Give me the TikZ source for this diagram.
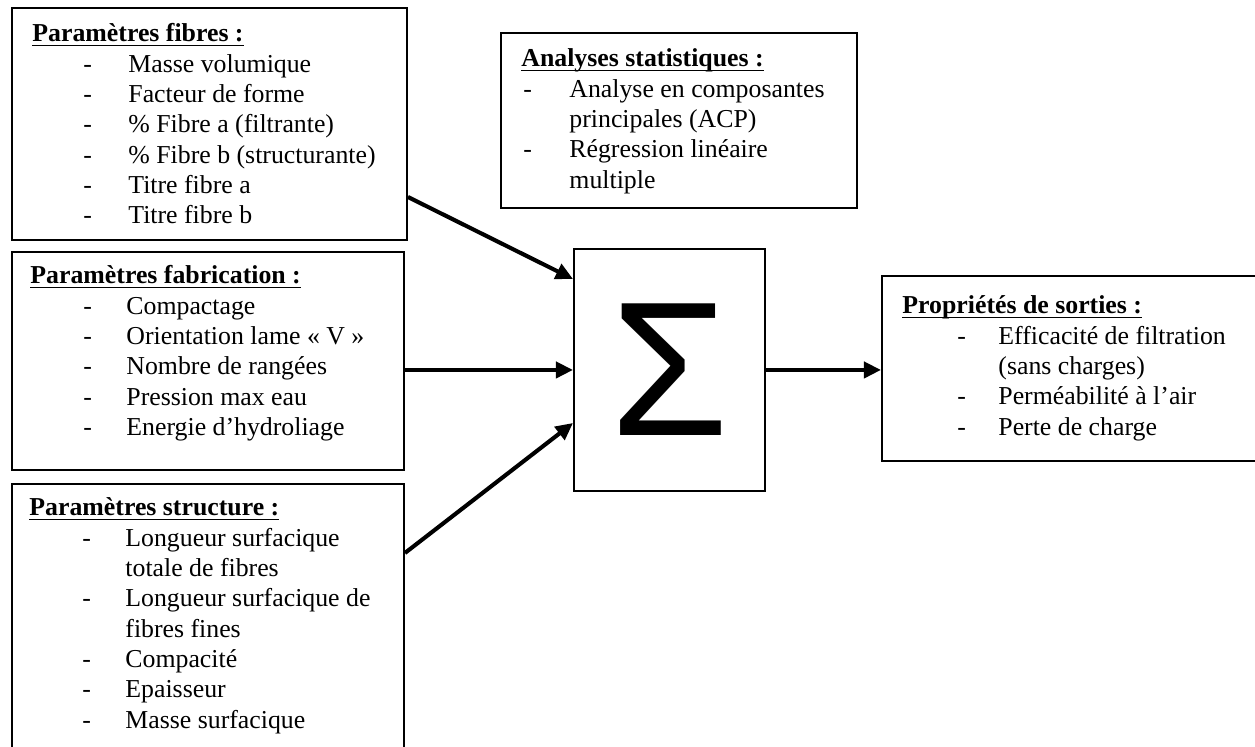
\documentclass[tikz,border=0pt]{standalone}
\usepackage{fontspec}
\setmainfont{Liberation Serif}
\newfontfamily\sommefont{Liberation Sans}
\usetikzlibrary{positioning, arrows.meta, calc}

\newlength{\pix}
\setlength{\pix}{0.465pt}

% lignes des listes : decalage du tiret, decalage du texte, texte
\newcommand{\tiret}[3]{\hspace*{#1}\makebox[0pt][l]{-}\hspace*{\dimexpr #2-#1\relax}#3\par}
\newcommand{\suite}[2]{\hspace*{#1}#2\par}
\newcommand{\titre}[1]{\underline{\smash{\textbf{#1}}}\par}

\begin{document}
\begin{tikzpicture}[
    x=0.465pt, y=-0.465pt,
    boite/.style={
        rectangle, draw=black, line width=0.9pt,
        inner sep=0pt, anchor=north west
    },
    texte/.style={
        anchor=base west, inner sep=0pt,
        font=\fontsize{12}{14.1}\selectfont
    },
    fleche/.style={-{Triangle[length=8pt, width=7.5pt]}, line width=1.9pt},
]
\useasboundingbox (0,0) rectangle (1255,747);

% ---- Boites d'entree ----
\node[boite, minimum width=395\pix, minimum height=232\pix] (fibres) at (11,7) {};
\node[boite, minimum width=392\pix, minimum height=218\pix] (fabrication) at (11,251) {};
\node[boite, minimum width=392\pix, minimum height=290\pix] (structure) at (11,483) {};

% ---- Analyses ----
\node[boite, minimum width=356\pix, minimum height=175\pix] (analyses) at (500,32) {};

% ---- Somme ----
\node[boite, minimum width=191\pix, minimum height=242\pix,
      font=\sommefont\fontsize{89}{89}\selectfont] (somme) at (573,248) {Σ};

% ---- Sorties ----
\node[boite, minimum width=390\pix, minimum height=185\pix] (sorties) at (881,275) {};

% ---- Textes ----
\node[texte] (fibres-txt) at ([shift={(21,35)}]fibres.north west) {\parbox[t]{380\pix}{%
    \titre{Paramètres fibres :}
    \tiret{51\pix}{96\pix}{Masse volumique}
    \tiret{51\pix}{96\pix}{Facteur de forme}
    \tiret{51\pix}{96\pix}{\% Fibre a (filtrante)}
    \tiret{51\pix}{96\pix}{\% Fibre b (structurante)}
    \tiret{51\pix}{96\pix}{Titre fibre a}
    \tiret{51\pix}{96\pix}{Titre fibre b}}};

\node[texte] (fabrication-txt) at ([shift={(19,33)}]fabrication.north west) {\parbox[t]{380\pix}{%
    \titre{Paramètres fabrication :}
    \tiret{53\pix}{96\pix}{Compactage}
    \tiret{53\pix}{96\pix}{Orientation lame « V »}
    \tiret{53\pix}{96\pix}{Nombre de rangées}
    \tiret{53\pix}{96\pix}{Pression max eau}
    \tiret{53\pix}{96\pix}{Energie d’hydroliage}}};

\node[texte] (structure-txt) at ([shift={(18,33)}]structure.north west) {\parbox[t]{380\pix}{%
    \titre{Paramètres structure :}
    \tiret{53\pix}{96\pix}{Longueur surfacique}
    \suite{96\pix}{totale de fibres}
    \tiret{53\pix}{96\pix}{Longueur surfacique de}
    \suite{96\pix}{fibres fines}
    \tiret{53\pix}{96\pix}{Compacité}
    \tiret{53\pix}{96\pix}{Epaisseur}
    \tiret{53\pix}{96\pix}{Masse surfacique}}};

\node[texte] (analyses-txt) at ([shift={(21,35)}]analyses.north west) {\parbox[t]{340\pix}{%
    \titre{Analyses statistiques :}
    \tiret{2\pix}{48\pix}{Analyse en composantes}
    \suite{48\pix}{principales (ACP)}
    \tiret{2\pix}{48\pix}{Régression linéaire}
    \suite{48\pix}{multiple}}};

\node[texte] (sorties-txt) at ([shift={(21,39)}]sorties.north west) {\parbox[t]{360\pix}{%
    \titre{Propriétés de sorties :}
    \tiret{55\pix}{96\pix}{Efficacité de filtration}
    \suite{96\pix}{(sans charges)}
    \tiret{55\pix}{96\pix}{Perméabilité à l’air}
    \tiret{55\pix}{96\pix}{Perte de charge}}};

% ---- Fleches ----
\coordinate (fibres-out) at ($(fibres.north east)+(0,190)$);
\coordinate (somme-in1) at ($(somme.north west)+(0,31)$);
\draw[fleche] (fibres-out) -- (somme-in1);

\draw[fleche] (somme.west -| fabrication.east) -- (somme.west);

\coordinate (structure-out) at ($(structure.north east)+(0,70)$);
\coordinate (somme-in3) at ($(somme.north west)+(0,175)$);
\draw[fleche] (structure-out) -- (somme-in3);

\draw[fleche] (somme.east) -- (somme.east -| sorties.west);

\end{tikzpicture}
\end{document}
